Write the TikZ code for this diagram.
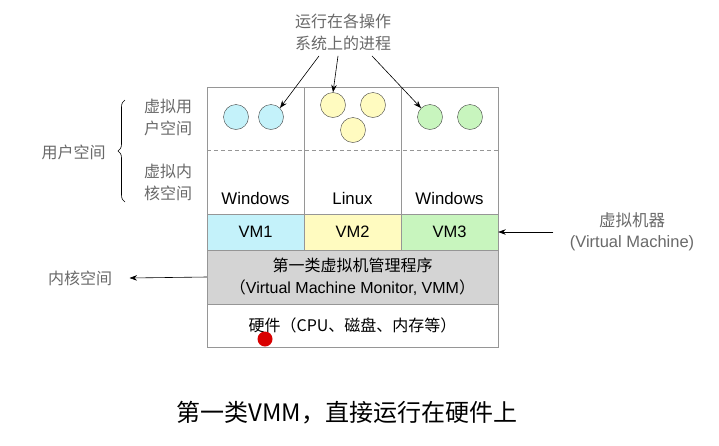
\documentclass[tikz,border=0pt]{standalone}
\usepackage{fontspec}
\setmainfont{Liberation Sans}
\newfontfamily\cjk{Noto Sans CJK SC}
\definecolor{VMcian}{RGB}{196,242,250}
\definecolor{VMamar}{RGB}{255,251,192}
\definecolor{VMverde}{RGB}{200,245,190}
\definecolor{VMgris}{RGB}{212,212,212}
\definecolor{Borde}{RGB}{150,150,150}
\definecolor{Txtgris}{RGB}{105,105,105}
\usetikzlibrary{positioning, arrows.meta, decorations.pathreplacing}

\begin{document}
\begin{tikzpicture}[x=1pt, y=-1pt,
  oscol/.style={rectangle, draw=Borde, inner sep=0pt,
                minimum width=97pt, minimum height=127pt},
  vmcell/.style={rectangle, draw=Borde, inner sep=0pt,
                 minimum width=97pt, minimum height=36pt,
                 font=\fontsize{16.5}{19}\selectfont},
  wide/.style={rectangle, draw=Borde, inner sep=0pt,
               minimum width=291pt, align=center,
               font=\fontsize{16}{19}\selectfont},
  proc/.style={circle, draw=black!75, inner sep=0pt, minimum size=25pt},
  oslbl/.style={font=\fontsize{16.8}{19}\selectfont},
  side/.style={align=left, text=Txtgris, font=\fontsize{16}{22}\selectfont},
  parr/.style={-{Stealth[length=7.5pt, width=5.5pt]}, line width=0.6pt},
  sep/.style={dashed, draw=Borde, dash pattern=on 4pt off 3pt},
  brc/.style={decorate, decoration={brace, amplitude=7pt}, line width=0.6pt}
]
\useasboundingbox (0,0) rectangle (719,445);

%% ─── Columnas de sistemas operativos ───────────────────────
\node[oscol] (c1) at (255.5,150.5) {};
\node[oscol] (c2) at (352.5,150.5) {};
\node[oscol] (c3) at (449.5,150.5) {};
\draw[sep] (c1.west) -- (c3.east);
\node[oslbl] (w1) at (255.5,198) {Windows};
\node[oslbl] (w2) at (352.5,198) {Linux};
\node[oslbl] (w3) at (449.5,198) {Windows};

%% ─── Procesos ───────────────────────────────────────────────
\node[proc, fill=VMcian]  (p11) at (236,117) {};
\node[proc, fill=VMcian]  (p12) at (271,117) {};
\node[proc, fill=VMamar]  (p21) at (333,105) {};
\node[proc, fill=VMamar]  (p22) at (373,105) {};
\node[proc, fill=VMamar]  (p23) at (353,130) {};
\node[proc, fill=VMverde] (p31) at (430,117) {};
\node[proc, fill=VMverde] (p32) at (470,117) {};

\node[side, align=center] (procs) at (343,32)
    {\cjk 运行在各操作\\\cjk 系统上的进程};
\draw[parr] ([xshift=-24pt, yshift=-2pt]procs.south) -- (p12.north east);
\draw[parr] ([xshift=-5pt, yshift=-2pt]procs.south) -- (p21.north);
\draw[parr] ([xshift=29pt, yshift=-2pt]procs.south) -- (p31.north west);

%% ─── Maquinas virtuales, VMM y hardware ────────────────────
\node[vmcell, fill=VMcian]  (vm1) at (255.5,232) {VM1};
\node[vmcell, fill=VMamar]  (vm2) at (352.5,232) {VM2};
\node[vmcell, fill=VMverde] (vm3) at (449.5,232) {VM3};
\node[wide, fill=VMgris, minimum height=54pt] (vmm) at (352.5,277)
    {{\cjk 第一类虚拟机管理程序}\\[3pt]
     {\cjk （}Virtual Machine Monitor, VMM{\cjk ）}};
\node[wide, minimum height=43pt] (hw) at (352.5,325.5)
    {\cjk 硬件（CPU、磁盘、内存等）};
\node[circle, fill=red!85!black, inner sep=0pt, minimum size=15pt] (rdot) at (265,339) {};

%% ─── Etiquetas laterales ───────────────────────────────────
\node[side] (vu) at (168,117) {\cjk 虚拟用\\\cjk 户空间};
\node[side] (vk) at (168,182) {\cjk 虚拟内\\\cjk 核空间};
\draw[brc] (125,202) -- (125,100);
\node[side] (us) at (73.5,152) {\cjk 用户空间};

\node[side] (ks) at (80,278) {\cjk 内核空间};
\draw[parr] (vmm.west) -- ([xshift=14pt]ks.east);

\node[side, align=center, font=\fontsize{16.5}{21}\selectfont] (vmr) at (632,232)
    {\cjk 虚拟机器\\(Virtual Machine)};
\draw[parr] ([xshift=-13pt]vmr.west) -- (vm3.east);

%% ─── Titulo ────────────────────────────────────────────────
\node[font=\fontsize{24}{28}\selectfont] (cap) at (347,413)
    {\cjk 第一类VMM，直接运行在硬件上};

\end{tikzpicture}
\end{document}
